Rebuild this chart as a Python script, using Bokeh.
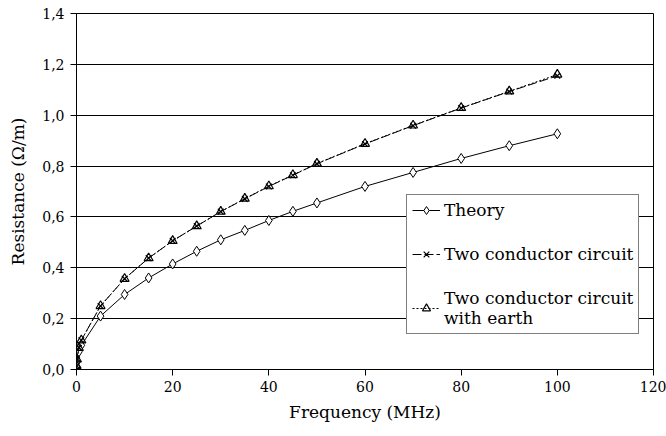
from bokeh.plotting import figure
from bokeh.models import Range1d, FixedTicker, CustomJSTickFormatter, Legend, LegendItem
from bokeh.embed import file_html
from bokeh.resources import INLINE

# ---- data ----
freq = [0.01, 0.1, 0.5, 1, 5, 10, 15, 20, 25, 30, 35, 40, 45, 50, 60, 70, 80, 90, 100]
theory = [0.01, 0.03, 0.07, 0.095, 0.21, 0.295, 0.36, 0.415, 0.465, 0.51, 0.547,
          0.586, 0.622, 0.655, 0.72, 0.775, 0.83, 0.88, 0.927]
two_cond = [0.015, 0.04, 0.085, 0.115, 0.25, 0.357, 0.438, 0.506, 0.564, 0.621, 0.671,
            0.72, 0.764, 0.809, 0.887, 0.959, 1.028, 1.093, 1.155]
two_cond_earth = [0.015, 0.04, 0.085, 0.115, 0.25, 0.357, 0.438, 0.506, 0.564, 0.621, 0.672,
                  0.721, 0.765, 0.81, 0.888, 0.96, 1.029, 1.094, 1.16]
x_ticks = [0, 20, 40, 60, 80, 100, 120]
y_ticks = [0.0, 0.2, 0.4, 0.6, 0.8, 1.0, 1.2, 1.4]
series_names = ["Theory", "Two conductor circuit", "Two conductor circuit\nwith earth"]
x_title = "Frequency (MHz)"
y_title = "Resistance (\u03a9/m)"

FONT = "DejaVu Serif"

p = figure(width=666, height=436, output_backend="svg", toolbar_location=None,
           x_range=Range1d(0, 120), y_range=Range1d(0, 1.4),
           min_border_left=76, min_border_right=13, min_border_top=13, min_border_bottom=67)
p.background_fill_color = "white"
p.border_fill_color = "white"
p.outline_line_color = "black"
p.outline_line_width = 1

p.xgrid.grid_line_color = None
p.ygrid.grid_line_color = "black"
p.ygrid.grid_line_width = 1
p.ygrid.ticker = FixedTicker(ticks=y_ticks)

for ax in (p.xaxis[0], p.yaxis[0]):
    ax.axis_line_color = "black"
    ax.axis_line_width = 1
    ax.major_tick_line_color = "black"
    ax.major_tick_in = 0
    ax.major_tick_out = 6
    ax.minor_tick_line_color = None
    ax.major_label_text_font = FONT
    ax.major_label_text_font_size = "14px"
    ax.major_label_text_color = "black"
    ax.axis_label_text_font = FONT
    ax.axis_label_text_font_size = "17px"
    ax.axis_label_text_font_style = "normal"
    ax.axis_label_text_color = "black"

p.xaxis.ticker = FixedTicker(ticks=x_ticks)
p.yaxis.ticker = FixedTicker(ticks=y_ticks)
p.yaxis.formatter = CustomJSTickFormatter(code="return tick.toFixed(1).replace('.', ',');")
p.xaxis.axis_label = x_title
p.yaxis.axis_label = y_title
p.xaxis.major_label_standoff = 5
p.yaxis.major_label_standoff = 6
p.xaxis.axis_label_standoff = 7
p.yaxis.axis_label_standoff = 11

# Theory: solid line, open diamonds
l1 = p.line(freq, theory, line_color="black", line_width=1)
m1 = p.scatter(freq, theory, marker="diamond", size=10, line_color="black",
               fill_color="white", line_width=1)
# Two conductor circuit: dashed line, x markers
l2 = p.line(freq, two_cond, line_color="black", line_width=1, line_dash="9 3")
m2 = p.scatter(freq, two_cond, marker="x", size=8, line_color="black", line_width=1.2)
# Two conductor circuit with earth: dotted line, open triangles
l3 = p.line(freq, two_cond_earth, line_color="black", line_width=1, line_dash="2 2")
m3 = p.scatter(freq, two_cond_earth, marker="triangle", size=9, line_color="black",
               fill_color="white", fill_alpha=0, line_width=1.2)

legend = Legend(items=[
    LegendItem(label=series_names[0], renderers=[l1, m1]),
    LegendItem(label=series_names[1], renderers=[l2, m2]),
    LegendItem(label=series_names[2], renderers=[l3, m3]),
], location=(330, 35))
legend.label_text_font = FONT
legend.label_text_font_size = "17px"
legend.label_text_color = "black"
legend.border_line_color = "black"
legend.border_line_width = 1
legend.background_fill_color = "white"
legend.background_fill_alpha = 1
legend.glyph_width = 28
legend.glyph_height = 20
legend.label_standoff = 4
legend.padding = 5
legend.spacing = 24
legend.margin = 0
p.add_layout(legend, "center")

open("out.html", "w").write(file_html(p, INLINE))
